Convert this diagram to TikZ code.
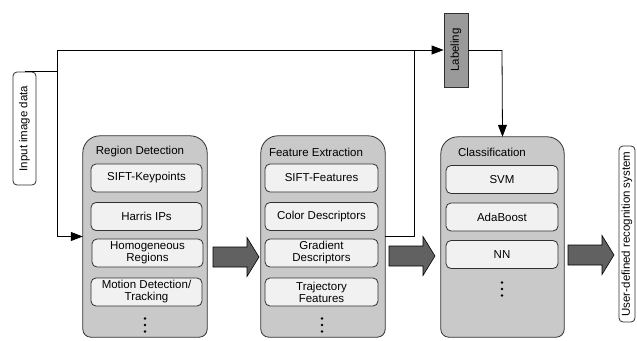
\documentclass[tikz,border=0pt]{standalone}
\usepackage{fontspec}
\setmainfont{Liberation Sans}
\usetikzlibrary{arrows.meta,calc}
\definecolor{panelgray}{HTML}{C9C9C9}
\definecolor{itemfill}{HTML}{F1F1F1}
\definecolor{labelgray}{HTML}{9A9A9A}
\definecolor{bigarrowgray}{HTML}{616161}
\definecolor{edgegray}{HTML}{303030}

% panel outline: large radius on top, small radius at the bottom
\newcommand\drawpanel[1]{%
  \path[draw=edgegray, fill=panelgray, line width=0.8pt]
    (#1.west) [rounded corners=17pt] -- (#1.north west) -- (#1.north east) -- (#1.east)
    [rounded corners=8pt] -- (#1.south east) -- (#1.south west) -- cycle;}

% thick block arrow between stages (x = start, y = axis)
\newcommand\blockarrow[2]{%
  \path[draw=black, fill=bigarrowgray, line width=0.6pt]
    (#1,#2-10) -- ++(34,0) -- (#1+34,#2-19.5) -- (#1+46,#2)
    -- (#1+34,#2+19.5) -- (#1+34,#2+10) -- (#1,#2+10) -- cycle;}

\begin{document}
\begin{tikzpicture}[x=1pt, y=-1pt,
  font=\fontsize{11.5}{12}\selectfont,
  panel/.style={draw=none, minimum width=124pt, minimum height=201pt, inner sep=0pt},
  item/.style={draw=edgegray, fill=itemfill, rounded corners=5pt, line width=0.8pt,
    minimum width=111pt, minimum height=28pt, inner sep=0pt, align=center},
  vbox/.style={draw=edgegray, fill=white, rounded corners=4pt, line width=0.8pt,
    rotate=90, inner sep=0pt},
  labelbox/.style={draw=edgegray, fill=labelgray, line width=0.8pt, rotate=90,
    inner sep=0pt, minimum width=74pt, minimum height=24pt},
  title/.style={inner sep=0pt},
  link/.style={line width=0.8pt},
  arr/.style={link, -{Triangle[length=12pt,width=9pt]}}]

\useasboundingbox (0,0) rectangle (637,340);
\fill[white] (0,0) rectangle (637,340);

% outer boxes
\node[vbox, minimum width=113pt, minimum height=23pt] (input) at (24.5,128.5) {Input image data};
\node[labelbox] (label) at (456,50) {Labeling};
\node[vbox, minimum width=176pt, minimum height=16pt] (output) at (627,234) {User-defined recognition system};

% stage panels
\node[panel] (reg) at (145,236.5) {};
\node[panel] (feat) at (323,236.5) {};
\node[panel, minimum width=123pt, minimum height=200pt] (cls) at (502.5,237) {};
\drawpanel{reg}
\drawpanel{feat}
\drawpanel{cls}

\node[title] (regtitle) at (140,152) {Region Detection};
\node[title] (feattitle) at (316,152) {Feature Extraction};
\node[title] (clstitle) at (492,152) {Classification};

% region detection methods
\node[item] (r1) at (146.5,178) {SIFT-Keypoints};
\node[item] (r2) at (146.5,216.5) {Harris IPs};
\node[item] (r3) at (147.5,253) {Homogeneous\\Regions};
\node[item] (r4) at (146.5,292) {Motion Detection/\\Tracking};

% feature extraction methods
\node[item, minimum width=113pt] (f1) at (321.5,178) {SIFT-Features};
\node[item, minimum width=113pt] (f2) at (321.5,216.5) {Color Descriptors};
\node[item, minimum width=113pt] (f3) at (321.5,253) {Gradient\\Descriptors};
\node[item, minimum width=113pt] (f4) at (321.5,292) {Trajectory\\Features};

% classifiers
\node[item, minimum width=112pt] (c1) at (502,179.5) {SVM};
\node[item, minimum width=112pt] (c2) at (502,217) {AdaBoost};
\node[item, minimum width=112pt] (c3) at (502,254.5) {NN};

% vertical ellipses
\foreach \cx/\cy in {145/325, 322/325, 502/289}
  \foreach \dy in {-6.5,0,6.5}
    \fill (\cx,\cy+\dy) circle (1.4pt);

% connectors
\coordinate (j1) at (57,50);
\coordinate (j2) at (414,50);
\coordinate (j3) at (57,236.5);
\coordinate (j4) at (502,50);
\draw[link] (input.east) -- (input.east -| j1);
\draw[link] (j3) -- (j1);
\draw[arr] (j1) -- (label.north);
\draw[arr] (j3) -- (reg.west);
\draw[link] (feat.east) -| (j2);
\draw[link] (label.south) -- (j4);
\draw[arr] (j4) -- (cls.north);

% block arrows between stages
\blockarrow{213}{257}
\blockarrow{389}{256}
\blockarrow{568}{255}

\end{tikzpicture}
\end{document}
